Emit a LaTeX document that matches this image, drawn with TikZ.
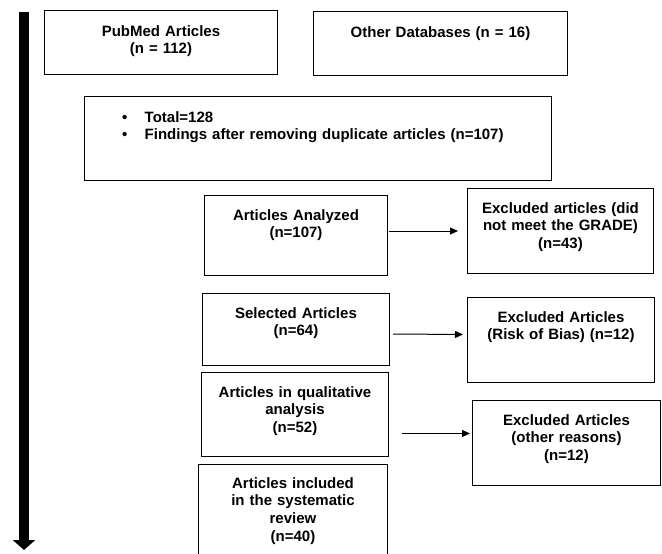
\documentclass[tikz,border=0pt]{standalone}
\usepackage{fontspec}
\setmainfont{Liberation Sans}
\usetikzlibrary{arrows.meta, positioning}

\begin{document}
\begin{tikzpicture}[x=1pt, y=-1pt,
    box/.style={draw, line width=1pt, anchor=north west, inner sep=0pt},
    txt/.style={font=\bfseries\fontsize{15}{17.7}\selectfont, align=center,
                text width=185pt, inner sep=0pt, anchor=base},
    arr/.style={line width=1pt, -{Triangle[length=8pt,width=7pt]}}]
  \useasboundingbox (0,0) rectangle (662,554);

  % boxes
  \node[box, minimum width=233pt, minimum height=64pt] (pubmed)    at (44,10)   {};
  \node[box, minimum width=254pt, minimum height=64pt] (otherdb)   at (313,11)  {};
  \node[box, minimum width=467pt, minimum height=84pt] (total)     at (84,96)   {};
  \node[box, minimum width=183pt, minimum height=80pt] (analyzed)  at (204,195) {};
  \node[box, minimum width=186pt, minimum height=85pt] (grade)     at (467,188) {};
  \node[box, minimum width=187pt, minimum height=72pt] (selected)  at (202,293) {};
  \node[box, minimum width=187pt, minimum height=85pt] (risk)      at (467,297) {};
  \node[box, minimum width=187pt, minimum height=84pt] (qual)      at (201,372) {};
  \node[box, minimum width=188pt, minimum height=85pt] (otherrsn)  at (472,400) {};
  \node[box, minimum width=189pt, minimum height=96pt] (included)  at (198,464) {};

  % texts
  \node[txt] (pubmedtxt)   at ([yshift=-26pt]pubmed.north)   {PubMed Articles\\(n = 112)};
  \node[txt, text width=250pt] (otherdbtxt) at ([yshift=-26pt]otherdb.north) {Other Databases (n = 16)};
  \node[txt, align=left, text width=440pt, anchor=base west] (totaltxt)
    at ([xshift=38pt,yshift=-26pt]total.north west)
    {\makebox[22.5pt][l]{\textbullet}Total=128\\
     \makebox[22.5pt][l]{\textbullet}Findings after removing duplicate articles (n=107)};
  \node[txt] (analyzedtxt) at ([yshift=-25pt]analyzed.north) {Articles Analyzed\\(n=107)};
  \node[txt] (gradetxt)    at ([yshift=-25pt]grade.north)    {Excluded articles (did\\not meet the GRADE)\\(n=43)};
  \node[txt] (selectedtxt) at ([yshift=-25pt]selected.north) {Selected Articles\\(n=64)};
  \node[txt] (risktxt)     at ([yshift=-25pt]risk.north)     {Excluded Articles\\(Risk of Bias) (n=12)};
  \node[txt] (qualtxt)     at ([yshift=-25pt]qual.north)     {Articles in qualitative\\analysis\\(n=52)};
  \node[txt] (otherrsntxt) at ([yshift=-25pt]otherrsn.north) {Excluded Articles\\(other reasons)\\(n=12)};
  \node[txt] (includedtxt) at ([yshift=-24pt]included.north) {Articles included\\in the systematic\\review\\(n=40)};

  % connectors
  \draw[arr] ([xshift=1pt]analyzed.east |- grade.west) -- ([xshift=-9pt]grade.west);
  \draw[arr] ([xshift=3pt,yshift=-4.5pt]selected.east) -- ([xshift=-4pt,yshift=5.5pt]risk.west);
  \draw[arr] ([xshift=13pt,yshift=-19pt]qual.east) -- ([xshift=-2pt,yshift=9.5pt]otherrsn.west);

  % timeline arrow
  \coordinate (flowtop) at (24,12);
  \coordinate (flowend) at (24,550);
  \draw[line width=10pt, -{Triangle[length=10pt,width=22pt]}] (flowtop) -- (flowend);
\end{tikzpicture}
\end{document}
